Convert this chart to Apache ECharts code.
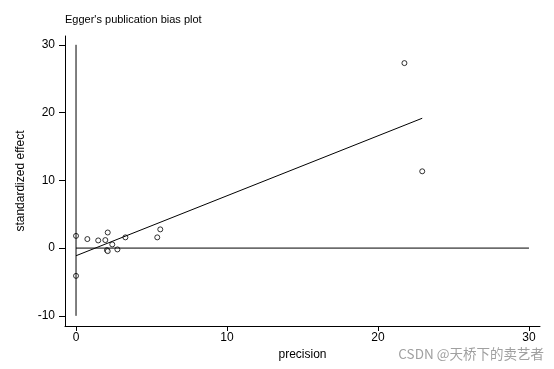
<!DOCTYPE html>
<html>
<head>
<meta charset="utf-8">
<script src="https://cdn.jsdelivr.net/npm/echarts@6/dist/echarts.min.js"></script>
<style>html,body{margin:0;padding:0;background:#fff}#c{width:554px;height:369px}</style>
</head>
<body>
<div id="c"></div>
<script>
var precision = [0, 0, 0.75, 1.47, 1.94, 2.1, 2.4, 2.05, 2.1, 2.74, 3.27, 5.38, 5.58, 21.75, 22.93];
var stdEffect = [1.8, -4.1, 1.33, 1.13, 1.18, 2.3, 0.54, -0.3, -0.45, -0.2, 1.58, 1.58, 2.76, 27.3, 11.33];
var regIntercept = -1.13;
var regSlope = 0.885;
var xTicks = [0, 10, 20, 30];
var yTicks = [-10, 0, 10, 20, 30];
var vRef = [[0, -10], [0, 30]];
var hRef = [[0, 0], [30, 0]];

var pts = precision.map(function (p, i) { return [p, stdEffect[i]]; });
var maxP = Math.max.apply(null, precision);
var regLine = [[0, regIntercept], [maxP, regIntercept + regSlope * maxP]];

var font = 'Arial, "Liberation Sans", sans-serif';
var chart = echarts.init(document.getElementById('c'), null, {renderer: 'canvas'});
chart.setOption({
  animation: false,
  backgroundColor: '#fff',
  title: {
    text: "Egger's publication bias plot",
    left: 60, top: 9,
    textStyle: {fontFamily: font, fontSize: 11, fontWeight: 'normal', color: '#000'}
  },
  grid: {left: 65, right: 14, top: 36, bottom: 43},
  xAxis: {
    type: 'value', min: -0.73, max: 30.73,
    name: 'precision', nameLocation: 'middle', nameGap: 21,
    nameTextStyle: {fontFamily: font, fontSize: 12, color: '#000'},
    axisLine: {show: true, onZero: false, lineStyle: {color: '#000', width: 1}},
    axisTick: {show: true, length: 5, customValues: xTicks, lineStyle: {color: '#000'}},
    axisLabel: {customValues: xTicks, fontFamily: font, fontSize: 12, color: '#000', margin: 6},
    splitLine: {show: false}
  },
  yAxis: {
    type: 'value', min: -11.5, max: 31.3,
    name: 'standardized effect', nameLocation: 'middle', nameGap: 33, nameRotate: 90,
    nameTextStyle: {fontFamily: font, fontSize: 12, color: '#000'},
    axisLine: {show: true, onZero: false, lineStyle: {color: '#000', width: 1}},
    axisTick: {show: true, length: 6, customValues: yTicks, lineStyle: {color: '#000'}},
    axisLabel: {customValues: yTicks, fontFamily: font, fontSize: 12, color: '#000', margin: 10},
    splitLine: {show: false}
  },
  graphic: [{
    type: 'text', right: 10, top: 347,
    style: {text: 'CSDN @天桥下的卖艺者', fill: '#a0a0a0', font: '13.5px "Noto Sans CJK SC", sans-serif'}
  }],
  series: [
    {type: 'line', data: vRef, symbol: 'none', lineStyle: {color: '#000', width: 1}, silent: true},
    {type: 'line', data: hRef, symbol: 'none', lineStyle: {color: '#000', width: 1}, silent: true},
    {type: 'line', data: regLine, symbol: 'none', lineStyle: {color: '#000', width: 1}, silent: true},
    {type: 'scatter', data: pts, symbol: 'circle', symbolSize: 5,
     itemStyle: {color: '#fff', borderColor: '#000', borderWidth: 1}}
  ]
});
</script>
</body>
</html>
